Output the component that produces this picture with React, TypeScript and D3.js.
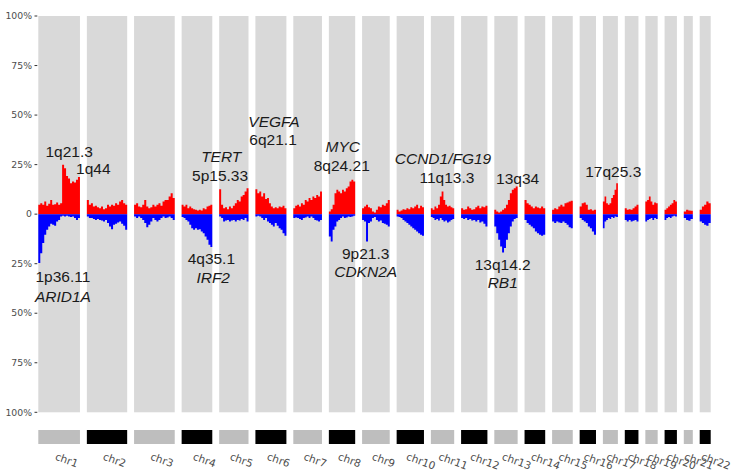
import React from "react";
import * as d3 from "d3";

// chromosome facets and their displayed spans (Mb-ish)
const chromosomes = ["chr1","chr2","chr3","chr4","chr5","chr6","chr7","chr8","chr9","chr10","chr11",
  "chr12","chr13","chr14","chr15","chr16","chr17","chr18","chr19","chr20","chr21","chr22"];
const chromSpan = [250,242,244,184,176,186,172,158,166,164,140,158,140,124,124,98,90,82,74,74,54,66];

// gain frequency (%) along each chromosome, p-ter -> q-ter
const gainFreq: number[][] = [
  [4.7,5.5,4.7,6.4,4.2,5.2,7.2,4.7,5.0,5.9,4.7,5.5,24.9,23.2,19.3,18.0,15.6,16.5,16.0,17.3,18.7],
  [7.2,4.7,5.5,3.9,4.2,3.5,3.0,3.9,2.5,3.0,4.7,3.9,4.7,4.2,5.5,4.7,6.4,7.2,5.5,4.7],
  [4.7,5.5,3.9,3.5,4.7,7.2,3.9,3.0,3.5,4.7,3.9,4.7,5.5,4.2,6.4,7.2,7.2,8.9,10.6,8.1],
  [4.7,3.9,4.7,3.0,3.9,3.0,2.5,2.2,1.8,2.2,1.8,3.0,2.5,3.9,4.2,4.7],
  [12.6,4.7,3.0,3.5,2.5,3.9,3.0,4.2,5.5,7.2,6.4,8.9,9.7,11.4,13.1],
  [12.6,10.6,11.4,8.9,10.6,7.6,8.1,5.5,3.9,3.0,3.5,3.0,3.9,3.5,4.2,3.0],
  [3.0,4.2,4.7,3.9,5.5,4.7,7.2,6.4,8.1,7.2,8.9,8.1,9.7,8.9,11.4],
  [1.3,2.5,4.7,10.6,12.3,11.4,10.6,12.3,11.4,13.1,13.9,16.5,17.3,16.5],
  [3.0,3.9,4.7,3.5,3.0,1.3,0.8,2.2,3.9,3.5,4.7,4.2,5.5,7.2],
  [2.2,1.3,1.8,2.5,2.2,3.0,2.5,3.5,3.0,3.9,4.7,3.0,4.2,3.5],
  [3.0,2.2,3.9,3.0,4.7,8.9,11.4,7.2,4.7,3.9,4.2,3.5,3.0],
  [3.0,2.2,2.5,3.9,3.0,2.2,2.5,3.5,4.2,3.0,3.9,3.5,4.2],
  [2.2,1.3,0.8,1.3,2.2,3.0,4.7,7.2,10.6,12.3,13.1,14.0],
  [7.2,5.5,4.7,3.9,3.0,3.9,3.4,3.0,3.9,3.0],
  [2.2,3.0,2.5,3.9,4.7,3.9,5.5,5.9,6.4,6.7],
  [3.9,5.5,5.9,4.7,2.2,2.5,1.8,2.2],
  [6.4,8.9,5.5,4.7,5.5,8.1,9.7,12.3,15.6],
  [3.0,2.2,2.5,2.2,3.0,3.9,4.7],
  [6.4,7.2,8.9,6.4,4.7,5.9,5.5],
  [2.2,3.0,3.9,4.7,5.5,7.2,6.4],
  [1.3,2.2,1.8,1.7],
  [2.2,3.9,4.7,6.4,5.5],
];

// loss frequency (%) along each chromosome
const lossFreq: number[][] = [
  [24.7,19.7,14.6,10.4,7.9,6.2,4.9,5.4,5.9,3.7,2.9,1.2,0.8,1.2,0.8,1.2,1.5,1.2,2.0,2.9,2.0],
  [1.2,2.0,2.0,2.5,2.9,2.5,2.9,3.2,3.7,2.9,4.5,6.2,7.6,5.4,4.9,4.2,3.7,4.9,5.9,7.9],
  [1.2,2.0,1.2,2.0,2.9,4.5,6.6,5.4,3.7,2.0,2.9,3.7,2.9,2.0,1.2,2.0,1.7,1.2,2.0,2.9],
  [1.5,2.0,2.9,3.7,5.4,7.1,7.9,7.1,7.9,7.6,8.7,9.6,11.3,12.9,15.5,16.6],
  [1.2,2.0,3.7,3.2,2.9,3.7,3.2,2.9,3.7,2.9,3.2,2.5,2.9,2.0,3.7],
  [1.2,0.8,1.2,2.0,2.9,2.0,3.7,4.5,5.4,6.2,4.5,5.9,7.1,7.9,9.6,10.9],
  [2.0,1.7,2.0,2.5,2.9,2.0,1.7,1.2,2.0,1.2,2.0,2.9,3.2,3.7,2.9],
  [11.3,13.8,7.9,6.2,3.7,2.9,2.0,1.2,2.0,1.7,1.2,1.5,1.2,0.8],
  [2.9,3.7,13.8,4.5,3.7,2.0,1.5,2.9,3.7,3.2,4.5,4.9,5.4,6.2],
  [1.2,1.5,2.0,2.9,3.7,4.5,5.4,6.2,7.1,7.9,8.7,9.6,10.4,10.9],
  [1.5,2.0,2.9,2.5,3.2,2.0,2.9,3.7,3.2,4.2,3.7,2.9,2.5],
  [2.0,2.5,2.0,2.9,2.5,3.2,2.9,3.7,2.9,4.2,3.7,4.9,6.2],
  [6.2,9.6,12.9,16.3,19.3,17.1,12.9,9.6,6.2,3.7,2.5,2.0],
  [2.9,4.5,5.4,6.2,7.1,8.7,9.6,10.4,10.9,10.4],
  [3.7,4.5,3.7,4.2,4.5,3.7,4.5,5.4,6.6,7.1],
  [2.0,2.9,3.7,4.5,6.2,7.1,8.7,10.4],
  [7.1,3.7,2.9,2.0,2.5,1.5,2.0,1.2,1.5],
  [2.9,3.7,2.9,3.7,3.3,2.9,3.7],
  [3.7,2.9,2.5,2.0,2.9,2.0,2.5],
  [2.9,2.0,1.5,2.0,1.2,0.8,1.2],
  [2.0,2.9,3.3,2.5],
  [3.7,4.5,5.4,5.9,4.5],
];

const yTicks = [100, 75, 50, 25, 0, -25, -50, -75, -100];

// [text, chromosome index, position within chromosome (0-1), frequency %, italic]
const annotations: [string, number, number, number, boolean][] = [
  ["1q21.3", 0, 0.74, 28.8, false],
  ["1q44", 0, 1.32, 20.3, false],
  ["1p36.11", 0, 0.59, -34.2, false],
  ["ARID1A", 0, 0.59, -44.3, true],
  ["TERT", 4, 0.07, 26.3, true],
  ["5p15.33", 4, 0.03, 16.7, false],
  ["4q35.1", 3, 0.97, -25.1, false],
  ["IRF2", 3, 1.03, -34.7, true],
  ["VEGFA", 5, 0.6, 44.0, true],
  ["6q21.1", 5, 0.57, 34.9, false],
  ["MYC", 7, 0.53, 31.4, true],
  ["8q24.21", 7, 0.49, 21.8, false],
  ["9p21.3", 8, 0.13, -22.6, false],
  ["CDKN2A", 8, 0.13, -31.7, true],
  ["CCND1/FG19", 10, 0.52, 25.3, true],
  ["11q13.3", 10, 0.69, 15.7, false],
  ["13q34", 12, 1.0, 15.2, false],
  ["13q14.2", 12, 0.36, -28.2, false],
  ["RB1", 12, 0.36, -37.3, true],
  ["17q25.3", 6 + 10, 0.69, 18.7, false],
];

const W = 734, H = 475;
const left = 38.3, right = 710.7, top = 16, bottom = 412.3;
const gap = 6.9;
const stripTop = 430, stripBottom = 444;

export default function App() {
  const total = d3.sum(chromSpan);
  const k = (right - left - gap * (chromosomes.length - 1)) / total;
  const starts = chromSpan.map((_, i) => left + d3.sum(chromSpan.slice(0, i)) * k + i * gap);
  const y = d3.scaleLinear().domain([-100, 100]).range([bottom, top]);

  const panels = chromosomes.map((name, i) => {
    const x0 = starts[i];
    const x1 = x0 + chromSpan[i] * k;
    return { name, x0, x1 };
  });

  const stepPath = (vals: number[], x0: number, x1: number, sign: number) => {
    const x = d3.scaleLinear().domain([0, vals.length]).range([x0, x1]);
    const pts: [number, number][] = vals.map((v, i) => [x(i), v * sign]);
    pts.push([x(vals.length), vals[vals.length - 1] * sign]);
    const area = d3.area<[number, number]>()
      .x(d => d[0])
      .y0(y(0))
      .y1(d => y(d[1]))
      .curve(d3.curveStepAfter);
    return area(pts) || "";
  };

  const fmt = (v: number) => (v === 0 ? "0" : Math.abs(v) + "%");

  return (
    <svg width={W} height={H} style={{ position: "absolute", left: 0, top: 0, background: "#fff" }}>
      {panels.map((p, i) => (
        <rect key={"bg" + i} x={p.x0} y={top} width={p.x1 - p.x0} height={bottom - top} fill="#d9d9d9" />
      ))}
      {panels.map((p, i) => (
        <g key={"d" + i}>
          <path d={stepPath(gainFreq[i], p.x0, p.x1, 1)} fill="#ff0000" />
          <path d={stepPath(lossFreq[i], p.x0, p.x1, -1)} fill="#0000ff" />
        </g>
      ))}
      {yTicks.map(t => (
        <g key={"t" + t}>
          <line x1={34.5} x2={37.3} y1={y(t)} y2={y(t)} stroke="#333" strokeWidth={1} />
          <text x={32} y={y(t)} dy="0.35em" textAnchor="end" fontFamily="DejaVu Sans" fontSize={9.3} fill="#4d4d4d">
            {fmt(t)}
          </text>
        </g>
      ))}
      {panels.map((p, i) => (
        <rect key={"s" + i} x={p.x0} y={stripTop} width={p.x1 - p.x0} height={stripBottom - stripTop}
          fill={i % 2 === 0 ? "#bebebe" : "#000000"} />
      ))}
      {panels.map((p, i) => {
        const cx = (p.x0 + p.x1) / 2 - 2;
        const cy = 452;
        return (
          <text key={"l" + i} x={cx} y={cy} dy="0.75em" transform={`rotate(20,${cx},${cy})`}
            fontFamily="DejaVu Sans" fontSize={10.5} fill="#4d4d4d">
            {p.name}
          </text>
        );
      })}
      {annotations.map(([txt, c, pos, f, it], i) => {
        const p = panels[c];
        const xs = d3.scaleLinear().domain([0, 1]).range([p.x0, p.x1]);
        return (
          <text key={"a" + i} x={xs(pos)} y={y(f)} textAnchor="middle" fontFamily="Liberation Sans, Arial"
            fontSize={15.5} fontStyle={it ? "italic" : "normal"} fill="#1a1a1a">
            {txt}
          </text>
        );
      })}
    </svg>
  );
}
